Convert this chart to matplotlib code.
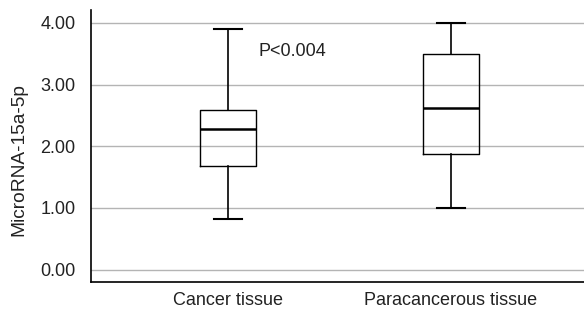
import matplotlib.pyplot as plt

plt.rcParams['font.family'] = ['Liberation Sans', 'DejaVu Sans']

# Data
groups = ["Cancer tissue", "Paracancerous tissue"]
whisker_low = [0.82, 1.00]
q1 = [1.68, 1.87]
median = [2.28, 2.62]
q3 = [2.59, 3.49]
whisker_high = [3.90, 4.00]
yticks = [0.0, 1.0, 2.0, 3.0, 4.0]

stats = []
for i, name in enumerate(groups):
    stats.append({"label": name, "whislo": whisker_low[i], "q1": q1[i],
                  "med": median[i], "q3": q3[i], "whishi": whisker_high[i]})

fig = plt.figure(figsize=(5.84, 3.11), dpi=100)
ax = fig.add_axes([91 / 584, (311 - 282) / 311, (584 - 91) / 584, 272 / 311])

ax.bxp(stats, positions=[1, 2], widths=0.25, showfliers=False,
       boxprops=dict(color="black", linewidth=1.0),
       medianprops=dict(color="black", linewidth=1.8),
       whiskerprops=dict(color="black", linewidth=1.2),
       capprops=dict(color="black", linewidth=1.5),
       capwidths=0.125, zorder=3)

ax.set_xlim(0.386, 2.596)
ax.set_ylim(-0.2, 4.21)
ax.set_yticks(yticks)
ax.set_yticklabels([f"{v:.2f}" for v in yticks])
ax.yaxis.grid(True, color="#b4b4b4", linewidth=1.0, zorder=0)
ax.set_axisbelow(True)

for s in ["top", "right"]:
    ax.spines[s].set_visible(False)
ax.spines["left"].set_linewidth(1.2)
ax.spines["bottom"].set_linewidth(1.2)
ax.tick_params(axis="both", length=0, labelsize=13, colors="#222222")
ax.tick_params(axis="y", pad=11)
ax.tick_params(axis="x", pad=7)

ax.set_ylabel("MicroRNA-15a-5p", fontsize=13.8, labelpad=7, color="#222222")
ax.yaxis.set_label_coords(-0.13, 0.452)
ax.text(1.135, 3.53, "P<0.004", fontsize=13, va="center", ha="left", color="#222222")

fig.savefig("out.png", dpi=100)
